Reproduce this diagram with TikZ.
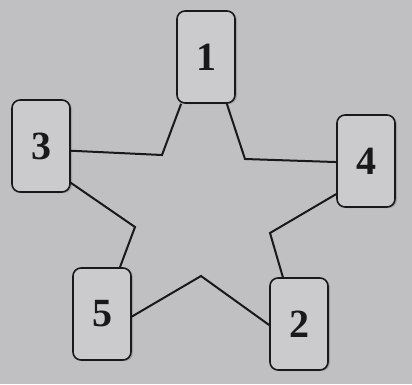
\documentclass[tikz,border=0pt]{standalone}
\usepackage{fontspec}
\setmainfont{Liberation Serif}
\usetikzlibrary{shadows}
\definecolor{paper}{RGB}{192,192,194}
\definecolor{cardfill}{RGB}{203,203,205}
\definecolor{ink}{RGB}{25,25,27}

\begin{document}
\begin{tikzpicture}[x=1pt, y=-1pt,
  card/.style={draw=ink, line width=1.6pt, fill=cardfill, rounded corners=8pt,
    minimum width=58pt, minimum height=92pt, inner sep=0pt,
    font=\fontsize{40}{40}\selectfont\bfseries, text=ink,
    drop shadow={shadow xshift=2pt, shadow yshift=-1pt, opacity=0.45}},
  star/.style={draw=ink, line width=2pt}]
  \fill[paper] (0,0) rectangle (412,384);
  \useasboundingbox (0,0) rectangle (412,384);

  % cards
  \node[card] (n1) at (206,57) {1};
  \node[card] (n3) at (41,146) {3};
  \node[card] (n4) at (366,161) {4};
  \node[card] (n2) at (299,324) {2};
  \node[card] (n5) at (102,314) {5};

  % inner corners of the star
  \coordinate (v13) at (162,155);
  \coordinate (v14) at (245,159);
  \coordinate (v42) at (270,233);
  \coordinate (v25) at (201,276);
  \coordinate (v53) at (135,227);

  \draw[star] (n3.-9) -- (v13) -- (n1.242);
  \draw[star] (n1.-66) -- (v14) -- (n4.182);
  \draw[star] (n4.228) -- (v42) -- (n2.109);
  \draw[star] (n2.182) -- (v25) -- (n5.-5);
  \draw[star] (n5.69) -- (v53) -- (n3.-51);
\end{tikzpicture}
\end{document}
